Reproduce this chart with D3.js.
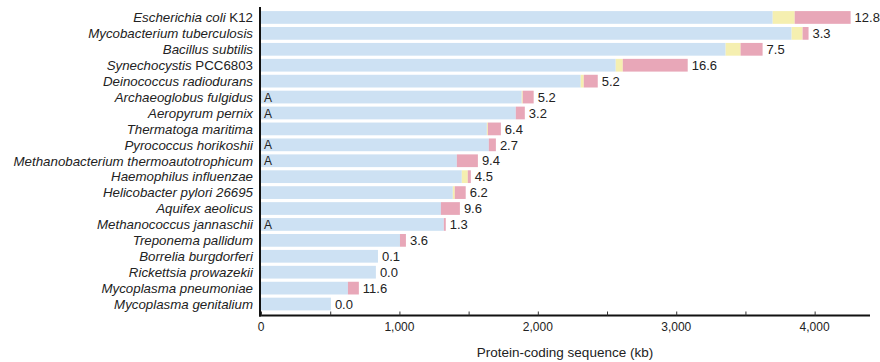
<!DOCTYPE html>
<html><head><meta charset="utf-8">
<script src="https://cdn.jsdelivr.net/npm/d3@7"></script>
<style>body{margin:0;background:#fff}svg{display:block}text{font-family:"Liberation Sans",Arial,sans-serif}</style>
</head><body><svg id="c" width="880" height="362"></svg>
<script>
const species = [
  ["Escherichia coli", " K12"],
  ["Mycobacterium tuberculosis", ""],
  ["Bacillus subtilis", ""],
  ["Synechocystis", " PCC6803"],
  ["Deinococcus radiodurans", ""],
  ["Archaeoglobus fulgidus", ""],
  ["Aeropyrum pernix", ""],
  ["Thermatoga maritima", ""],
  ["Pyrococcus horikoshii", ""],
  ["Methanobacterium thermoautotrophicum", ""],
  ["Haemophilus influenzae", ""],
  ["Helicobacter pylori 26695", ""],
  ["Aquifex aeolicus", ""],
  ["Methanococcus jannaschii", ""],
  ["Treponema pallidum", ""],
  ["Borrelia burgdorferi", ""],
  ["Rickettsia prowazekii", ""],
  ["Mycoplasma pneumoniae", ""],
  ["Mycoplasma genitalium", ""]
];
const archaea = [false,false,false,false,false,true,true,false,true,true,false,false,false,true,false,false,false,false,false];
const blueKb   = [3697,3834,3357,2563,2310,1884,1841,1632,1646,1415,1451,1386,1300,1321,1004,845,830,628,505];
const yellowKb = [159,79,108,51,22,7,0,7,0,0,43,14,0,0,0,0,0,0,0];
const pinkKb   = [404,43,159,469,101,79,65,94,51,152,22,79,137,14,43,0,0,79,0];
const pctLabels = ["12.8","3.3","7.5","16.6","5.2","5.2","3.2","6.4","2.7","9.4","4.5","6.2","9.6","1.3","3.6","0.1","0.0","11.6","0.0"];
const xTicks = [0,1000,2000,3000,4000];
const minorTicks = [500,1500,2500,3500];
const xTitle = "Protein-coding sequence (kb)";

const svg = d3.select("#c");
const x0 = 261, x1 = 870;
const x = d3.scaleLinear().domain([0,4400]).range([x0,x1]);
const y = d3.scaleBand().domain(d3.range(species.length)).range([9.5,312]).paddingInner(0.2).paddingOuter(0.1);
const colors = ["#cde1f3","#f5efb0","#e8a7b8"];

const g = svg.append("g");
species.forEach((s,i)=>{
  const segs = [blueKb[i], yellowKb[i], pinkKb[i]];
  let acc = 0;
  segs.forEach((v,k)=>{
    if(v>0){
      g.append("rect").attr("x",x(acc)).attr("y",y(i)).attr("width",x(acc+v)-x(acc)).attr("height",y.bandwidth()).attr("fill",colors[k]);
    }
    acc += v;
  });
  const cy = y(i)+y.bandwidth()/2;
  g.append("text").attr("x",x(acc)+4).attr("y",cy).attr("dy","0.36em").attr("font-size",13).attr("fill","#222").text(pctLabels[i]);
  const t = g.append("text").attr("x",253).attr("y",cy).attr("dy","0.36em").attr("text-anchor","end").attr("font-size",13.3).attr("fill","#222");
  t.append("tspan").attr("font-style","italic").text(s[0]);
  if(s[1]) t.append("tspan").attr("font-style","normal").text(s[1]);
  if(archaea[i]) g.append("text").attr("x",264).attr("y",cy).attr("dy","0.38em").attr("font-size",12).attr("fill","#222").text("A");
});

// axes
const axY = 315.5;
svg.append("line").attr("x1",x0-1).attr("x2",x0-1).attr("y1",7).attr("y2",axY+1).attr("stroke","#111").attr("stroke-width",2);
svg.append("line").attr("x1",x0-2).attr("x2",x1).attr("y1",axY).attr("y2",axY).attr("stroke","#111").attr("stroke-width",2);
const axis = d3.axisBottom(x).tickValues(xTicks.concat(minorTicks)).tickSize(-4).tickFormat(()=>"" );
const ag = svg.append("g").attr("transform",`translate(0,${axY})`).call(axis);
ag.select(".domain").remove();
ag.selectAll(".tick line").attr("stroke","#333").attr("stroke-width",1);
xTicks.forEach(v=>{
  svg.append("text").attr("x",x(v)).attr("y",331).attr("text-anchor","middle").attr("font-size",12).attr("fill","#222").text(d3.format(",")(v));
});
svg.append("text").attr("x",565).attr("y",357).attr("text-anchor","middle").attr("font-size",13.5).attr("fill","#222").text(xTitle);
</script></body></html>
